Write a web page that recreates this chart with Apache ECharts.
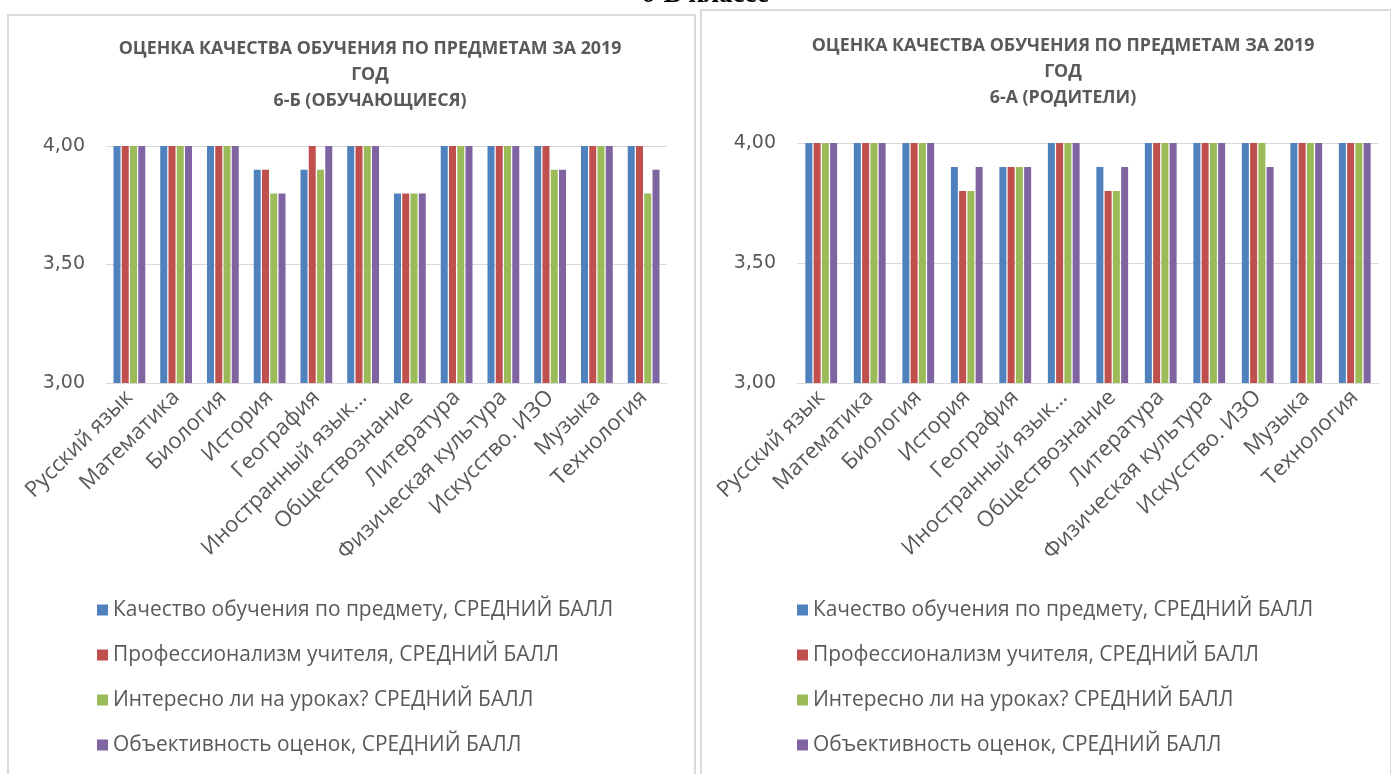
<!DOCTYPE html>
<html>
<head>
<meta charset="utf-8">
<script src="https://cdn.jsdelivr.net/npm/echarts@6/dist/echarts.min.js"></script>
<style>
html,body{margin:0;padding:0;background:#fff;}
#c{width:1391px;height:774px;}
</style>
</head>
<body>
<div id="c"></div>
<script>
var categories = ["Русский язык","Математика","Биология","История","География","Иностранный язык...","Обществознание","Литература","Физическая культура","Искусство. ИЗО","Музыка","Технология"];
var seriesNames = ["Качество обучения по предмету, СРЕДНИЙ БАЛЛ","Профессионализм учителя, СРЕДНИЙ БАЛЛ","Интересно ли на уроках? СРЕДНИЙ БАЛЛ","Объективность оценок, СРЕДНИЙ БАЛЛ"];
var colors = ["#4f81bd","#c0504d","#9bbb59","#8064a2"];

// 6-Б (обучающиеся)
var leftQuality   = [4.0,4.0,4.0,3.9,3.9,4.0,3.8,4.0,4.0,4.0,4.0,4.0];
var leftProf      = [4.0,4.0,4.0,3.9,4.0,4.0,3.8,4.0,4.0,4.0,4.0,4.0];
var leftInterest  = [4.0,4.0,4.0,3.8,3.9,4.0,3.8,4.0,4.0,3.9,4.0,3.8];
var leftObjective = [4.0,4.0,4.0,3.8,4.0,4.0,3.8,4.0,4.0,3.9,4.0,3.9];

// 6-А (родители)
var rightQuality   = [4.0,4.0,4.0,3.9,3.9,4.0,3.9,4.0,4.0,4.0,4.0,4.0];
var rightProf      = [4.0,4.0,4.0,3.8,3.9,4.0,3.8,4.0,4.0,4.0,4.0,4.0];
var rightInterest  = [4.0,4.0,4.0,3.8,3.9,4.0,3.8,4.0,4.0,4.0,4.0,4.0];
var rightObjective = [4.0,4.0,4.0,3.9,3.9,4.0,3.9,4.0,4.0,3.9,4.0,4.0];

var yTicks = {min:3, max:4, interval:0.5};
var leftTitle = "ОЦЕНКА КАЧЕСТВА ОБУЧЕНИЯ ПО ПРЕДМЕТАМ ЗА 2019\nГОД\n6-Б (ОБУЧАЮЩИЕСЯ)";
var rightTitle = "ОЦЕНКА КАЧЕСТВА ОБУЧЕНИЯ ПО ПРЕДМЕТАМ ЗА 2019\nГОД\n6-А (РОДИТЕЛИ)";
var pageHeading = "6-В классе";

var leftData = [leftQuality,leftProf,leftInterest,leftObjective];
var rightData = [rightQuality,rightProf,rightInterest,rightObjective];

var textColor = "#595959";
var gridColor = "#d9d9d9";

function xAxisFor(gi){
  return {
    type:'category', gridIndex:gi, data:categories,
    axisLine:{show:true, lineStyle:{color:gridColor, width:1}},
    axisTick:{show:false},
    axisLabel:{rotate:45, interval:0, color:textColor, fontFamily:'Open Sans', fontSize:22, margin:11}
  };
}
function yAxisFor(gi){
  return {
    type:'value', gridIndex:gi, min:yTicks.min, max:yTicks.max, interval:yTicks.interval,
    axisLine:{show:false}, axisTick:{show:false},
    splitLine:{lineStyle:{color:gridColor, width:1}},
    axisLabel:{color:textColor, fontFamily:'DejaVu Sans', fontSize:19, margin:21,
      formatter:function(v){return v.toFixed(2).replace('.',',');}}
  };
}
var series = [];
[leftData,rightData].forEach(function(set,gi){
  set.forEach(function(arr,i){
    series.push({
      type:'bar', name:seriesNames[i], xAxisIndex:gi, yAxisIndex:gi,
      data:arr, barWidth:7, barGap:'18%',
      itemStyle:{color:colors[i]},
      emphasis:{disabled:true}
    });
  });
});
function legendFor(left){
  return {
    orient:'vertical', left:left, top:599, padding:0, itemWidth:11, itemHeight:11, itemGap:23,
    icon:'rect', data:seriesNames,
    textStyle:{color:textColor, fontFamily:'Open Sans', fontSize:20.9, lineHeight:22, padding:[0,0,0,0]}
  };
}
var chart = echarts.init(document.getElementById('c'), null, {renderer:'canvas'});
chart.setOption({
  animation:false,
  backgroundColor:'#fff',
  color:colors,
  title:[
    {text:leftTitle, left:370, top:36, textAlign:'center', padding:0,
     textStyle:{color:textColor, fontFamily:'Open Sans', fontWeight:'bold', fontSize:17.8, lineHeight:26}},
    {text:rightTitle, left:1063, top:33, textAlign:'center', padding:0,
     textStyle:{color:textColor, fontFamily:'Open Sans', fontWeight:'bold', fontSize:17.8, lineHeight:26}}
  ],
  graphic:[
    {type:'rect', shape:{x:8,y:15,width:687,height:775}, style:{fill:'none', stroke:'#d9d9d9', lineWidth:2}, z:-1},
    {type:'rect', shape:{x:701,y:10,width:690,height:780}, style:{fill:'none', stroke:'#d9d9d9', lineWidth:2}, z:-1},
    {type:'text', x:705, y:-18, style:{text:pageHeading, textAlign:'center', fill:'#000',
      font:'bold 27px "Liberation Serif"'}}
  ],
  legend:[legendFor(97), legendFor(797)],
  grid:[
    {left:106, top:146, width:561, height:237},
    {left:797, top:143, width:582, height:240}
  ],
  xAxis:[xAxisFor(0), xAxisFor(1)],
  yAxis:[yAxisFor(0), yAxisFor(1)],
  series:series
});
</script>
</body>
</html>
